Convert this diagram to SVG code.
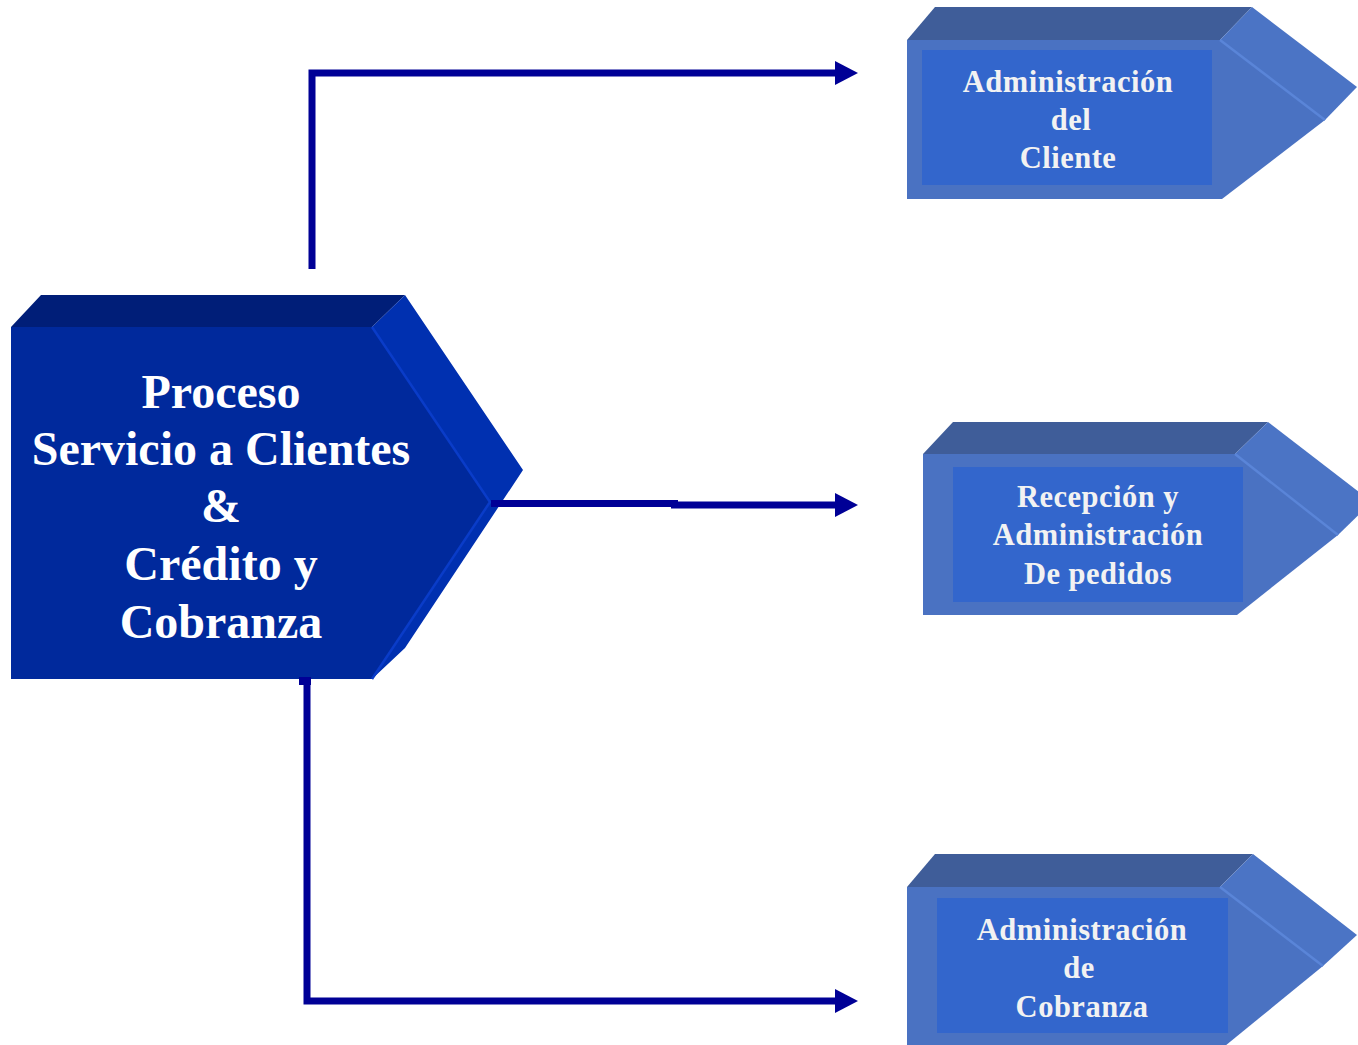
<svg xmlns="http://www.w3.org/2000/svg" width="1358" height="1045" viewBox="0 0 1358 1045">
<defs>
<style>
.main-front{fill:#00299C}
.main-top{fill:#001E78}
.main-side{fill:#0030B0}
.main-ridge{stroke:#0A3CC8;stroke-width:2.5;fill:none}
.sub-top{fill:#3F5D99}
.sub-front{fill:#4A72C2}
.sub-side{fill:#4B74C5}
.sub-ridge{stroke:#5A85D8;stroke-width:2.5;fill:none}
.sub-inner{fill:#3366CC}
.main-text{font-family:"Liberation Serif","Times New Roman",serif;font-weight:bold;font-size:48px;fill:#FFFFFF;text-anchor:middle}
.sub-text{font-family:"Liberation Serif","Times New Roman",serif;font-weight:bold;font-size:30.5px;letter-spacing:0.5px;fill:#F2F2F2;text-anchor:middle}
.conn{stroke:#000096;stroke-width:7;fill:none}
</style>
<marker id="arrow" markerUnits="userSpaceOnUse" markerWidth="24" markerHeight="24" refX="0" refY="12" orient="auto" viewBox="0 0 24 24">
<path d="M0,0 L23,12 L0,24 Z" fill="#000096"/>
</marker>
</defs>

<g id="node-main">
<polygon class="main-top" points="11,327 41,295 405,295 372,327"/>
<polygon class="main-side" points="372,327 405,295 523,470 405,648 372,679 490,502"/>
<polygon class="main-front" points="11,327 372,327 490,502 372,679 11,679"/>
<polyline class="main-ridge" points="372,327 490,502 372,679"/>
<text class="main-text" x="221" y="408">Proceso</text>
<text class="main-text" x="221" y="465">Servicio a Clientes</text>
<text class="main-text" x="221" y="522">&amp;</text>
<text class="main-text" x="221" y="580">Crédito y</text>
<text class="main-text" x="221" y="638">Cobranza</text>
</g>

<g id="node-cliente">
<polygon class="sub-top" points="907,40 935,7 1252,7 1220,40"/>
<polygon class="sub-side" points="1220,40 1252,7 1357,87 1325,120"/>
<polygon class="sub-front" points="907,40 1220,40 1325,120 1222,199 907,199"/>
<line class="sub-ridge" x1="1220" y1="40" x2="1325" y2="120"/>
<rect class="sub-inner" x="922" y="50" width="290" height="135"/>
<text class="sub-text" x="1068" y="92">Administración</text>
<text class="sub-text" x="1071" y="130">del</text>
<text class="sub-text" x="1068" y="168">Cliente</text>
</g>

<g id="node-pedidos">
<polygon class="sub-top" points="923,454 953,422 1268,422 1235,454"/>
<polygon class="sub-side" points="1235,454 1268,422 1372,502 1338,535"/>
<polygon class="sub-front" points="923,454 1235,454 1338,535 1237,615 923,615"/>
<line class="sub-ridge" x1="1235" y1="454" x2="1338" y2="535"/>
<rect class="sub-inner" x="953" y="467" width="290" height="135"/>
<text class="sub-text" x="1098" y="507">Recepción y</text>
<text class="sub-text" x="1098" y="545">Administración</text>
<text class="sub-text" x="1098" y="584">De pedidos</text>
</g>

<g id="node-cobranza">
<polygon class="sub-top" points="907,887 935,854 1253,854 1220,887"/>
<polygon class="sub-side" points="1220,887 1253,854 1357,935 1323,966"/>
<polygon class="sub-front" points="907,887 1220,887 1323,966 1225,1046 907,1046"/>
<line class="sub-ridge" x1="1220" y1="887" x2="1323" y2="966"/>
<rect class="sub-inner" x="937" y="898" width="291" height="135"/>
<text class="sub-text" x="1082" y="940">Administración</text>
<text class="sub-text" x="1079" y="978">de</text>
<text class="sub-text" x="1082" y="1017">Cobranza</text>
</g>

<g id="connectors">
<path class="conn" d="M312,269 V73 H835" marker-end="url(#arrow)"/>
<path class="conn" d="M491,503.5 H678"/>
<path class="conn" d="M671,505 H835" marker-end="url(#arrow)"/>
<rect x="299" y="677" width="12" height="8" fill="#000096"/>
<path class="conn" d="M307,677 V1001 H835" marker-end="url(#arrow)"/>
</g>
</svg>
